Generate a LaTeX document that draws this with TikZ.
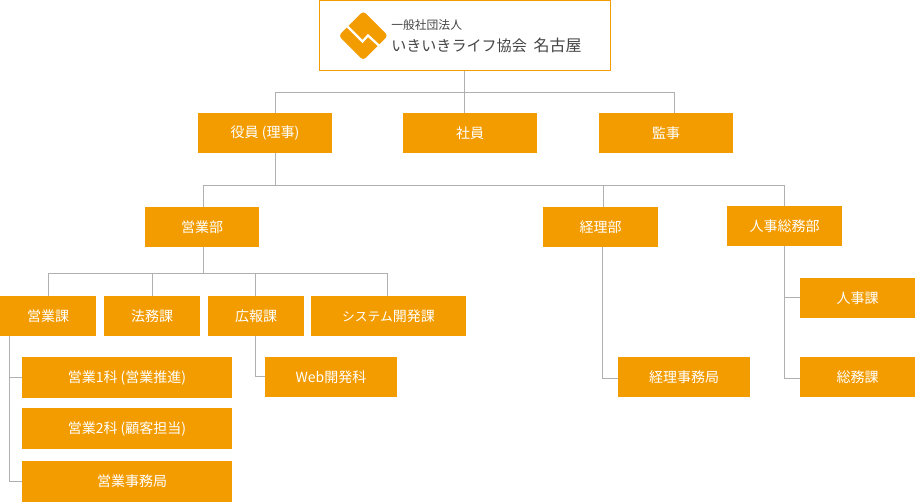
\documentclass[tikz,border=0pt]{standalone}
\usepackage{fontspec}
\setmainfont{Noto Sans CJK JP}[Scale=1]
\definecolor{org}{HTML}{F39C00}
\definecolor{ln}{HTML}{B0B0B0}
\definecolor{tx}{HTML}{444444}
\tikzset{
 x=0.75pt,y=-0.75pt,
 box/.style={fill=org,text=white,inner sep=0pt,font=\fontsize{10.5pt}{12pt}\selectfont,align=center},
 conn/.style={draw=ln,line width=0.75pt},
}
\newcommand{\bx}[6]{\node[box,minimum width=#4*0.75pt-#2*0.75pt,minimum height=#5*0.75pt-#3*0.75pt] (#1) at ({(#2+#4)/2},{(#3+#5)/2}) {#6};}
\begin{document}
\begin{tikzpicture}
\useasboundingbox (0,0) rectangle (915,502);
\node[draw=org,line width=0.75pt,minimum width=291*0.75pt,minimum height=70*0.75pt,inner sep=0pt] (root) at (465,35.5) {};
\bx{yakuin}{198}{113}{332}{153}{役員 (理事)}
\bx{shain}{403}{113}{537}{153}{社員}
\bx{kansa}{599}{113}{733}{153}{監事}
\bx{eibu}{145}{207}{259}{247}{営業部}
\bx{keibu}{543}{207}{658}{247}{経理部}
\bx{jinbu}{727}{206}{842}{246}{人事総務部}
\bx{eika}{0}{296}{96}{336}{営業課}
\bx{homu}{104}{296}{200}{336}{法務課}
\bx{koho}{208}{296}{304}{336}{広報課}
\bx{sys}{311}{296}{466}{336}{{\fontsize{9.6pt}{12pt}\selectfont システム}開発課}
\bx{ei1}{22}{357}{232}{398}{\raisebox{-1pt}{営業1科 (営業推進)}}
\bx{ei2}{22}{408}{232}{449}{\raisebox{-0.7pt}{営業2科 (顧客担当)}}
\bx{eij}{22}{461}{232}{502}{\hspace*{7.5pt}営業事務局}
\bx{web}{265}{357}{397}{397}{Web開発科}
\bx{keij}{618}{357}{750}{397}{経理事務局}
\bx{jinka}{800}{278}{915}{318}{人事課}
\bx{somu}{800}{357}{915}{397}{総務課}
% logo
\fill[org,rounded corners=2.6pt] (363.3,11) -- (388,35.7) -- (363.3,60.4) -- (338.6,35.7) -- cycle;
\draw[white,line width=1.7pt,miter limit=10] (345.5,24.5) -- (362.5,41.5) -- (368,35.5) -- (381,47.5);
\node[anchor=west,text=tx,inner sep=0pt,font=\fontsize{8.85pt}{10pt}\selectfont] (l1) at (391,25) {一般社団法人};
\node[anchor=west,text=tx,inner sep=0pt] (l2) at (391,45) {{\fontsize{11.3pt}{14pt}\selectfont いきいきライフ協会}\hspace{5pt}{\fontsize{12pt}{14pt}\selectfont 名古屋}};
% connectors
\coordinate (j0) at (464.5,92.5);
\coordinate (j0l) at (275.5,92.5);
\coordinate (j0r) at (674.5,92.5);
\coordinate (j1) at (275.5,185.5);
\coordinate (j1l) at (203.5,185.5);
\coordinate (j1m) at (603.5,185.5);
\coordinate (j1r) at (784.5,185.5);
\coordinate (j2) at (203.5,273.5);
\coordinate (j2a) at (48.5,273.5);
\coordinate (j2b) at (152.5,273.5);
\coordinate (j2c) at (255.5,273.5);
\coordinate (j2d) at (387.5,273.5);
\coordinate (sa) at (9.5,336);
\coordinate (sc) at (255.5,336);
\coordinate (sk) at (602.5,247);
\coordinate (sky) at (602.5,378.5);
\draw[conn] (j0 |- root.south) -- (j0 |- shain.north);
\draw[conn] (j0l |- yakuin.north) -- (j0l) -- (j0r) -- (j0r |- kansa.north);
\draw[conn] (j1 |- yakuin.south) -- (j1);
\draw[conn] (j1l |- eibu.north) -- (j1l) -- (j1r) -- (j1r |- jinbu.north);
\draw[conn] (j1m) -- (j1m |- keibu.north);
\draw[conn] (j2 |- eibu.south) -- (j2);
\draw[conn] (j2a |- eika.north) -- (j2a) -- (j2d) -- (j2d |- sys.north);
\draw[conn] (j2b) -- (j2b |- homu.north);
\draw[conn] (j2c) -- (j2c |- koho.north);
\draw[conn] (sa) -- (sa |- eij.west) -- (eij.west);
\draw[conn] (sa |- ei1.west) -- (ei1.west);
\draw[conn] (sc) -- (sc |- web.west) -- (web.west);
\draw[conn] (sk) -- (sky) -- (keij.west |- sky);
\draw[conn] (j1r |- jinbu.south) -- (j1r |- sky) -- (somu.west |- sky);
\draw[conn] (j1r |- jinka.west) -- (jinka.west);
\end{tikzpicture}
\end{document}
